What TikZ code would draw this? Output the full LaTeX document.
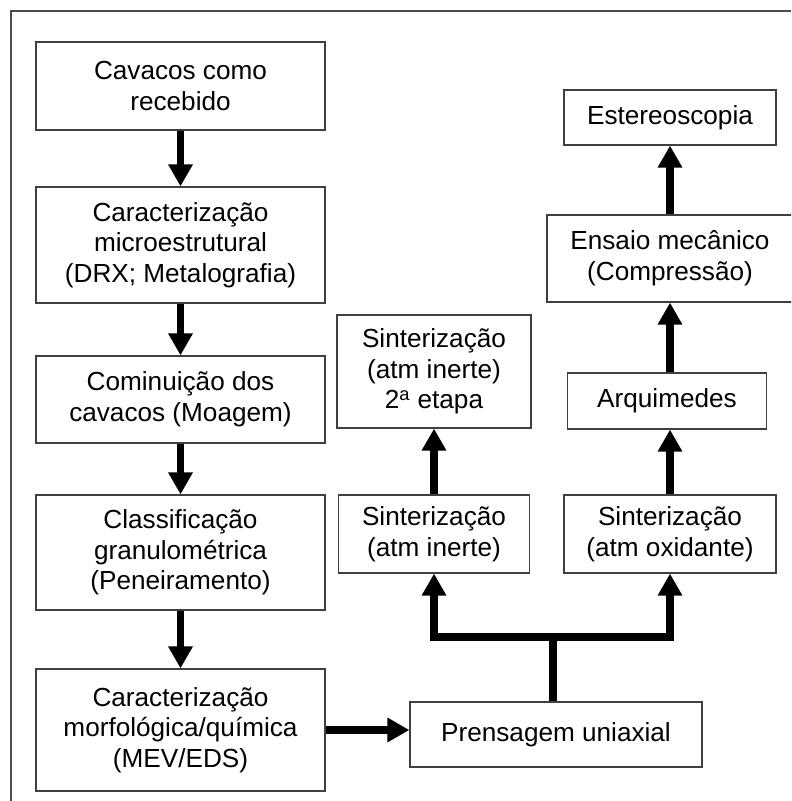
\documentclass[tikz,border=0pt]{standalone}
\usepackage{fontspec}
\setmainfont{Liberation Sans}
\usetikzlibrary{arrows.meta,positioning}

\begin{document}
\begin{tikzpicture}[
    x=0.025cm, y=-0.025cm,
    box/.style={rectangle, draw=black!75, line width=0.8pt, inner sep=0pt, align=center,
        font=\fontsize{18.6}{21.8}\selectfont},
    arrow/.style={-{Triangle[width=0.58cm,length=0.55cm]}, line width=5pt},
    stem/.style={line width=5pt},
    frame/.style={draw=black!70, line width=1pt}
]
\clip (0,0) rectangle (791,801);

% Outer frame (top and left only)
\draw[frame] (791,11) -- (11,11) -- (11,801);

% Preparation of the chips
\node[box, minimum width=7.225cm, minimum height=2.2cm] (recebido) at (180.5,86) {Cavacos como\\recebido};
\node[box, minimum width=7.225cm, minimum height=2.9cm] (micro) at (180.5,245) {Caracterização\\microestrutural\\(DRX; Metalografia)};
\node[box, minimum width=7.225cm, minimum height=2.175cm] (moagem) at (180.5,399.5) {Cominuição dos\\cavacos (Moagem)};
\node[box, minimum width=7.225cm, minimum height=2.875cm] (peneira) at (180.5,552.5) {Classificação\\granulométrica\\(Peneiramento)};
\node[box, minimum width=7.225cm, minimum height=3.05cm] (morfo) at (180.5,730) {Caracterização\\morfológica/química\\(MEV/EDS)};

% Compaction
\node[box, minimum width=7.3cm, minimum height=1.625cm] (prensa) at (556,734.5) {Prensagem uniaxial};

% Sintering
\node[box, minimum width=4.775cm, minimum height=1.95cm] (inerte) at (434,534) {Sinterização\\(atm inerte)};
\node[box, minimum width=4.85cm, minimum height=2.825cm] (etapa) at (434,371.5) {Sinterização\\(atm inerte)\\2\textsuperscript{a} etapa};
\node[box, minimum width=5.3cm, minimum height=1.95cm] (oxidante) at (670,534) {Sinterização\\(atm oxidante)};

% Tests
\node[box, minimum width=4.975cm, minimum height=1.4cm] (arquimedes) at (667,401) {Arquimedes};
\node[box, minimum width=6.15cm, minimum height=2.175cm] (ensaio) at (670,258.5) {Ensaio mecânico\\(Compressão)};
\node[box, minimum width=5.3cm, minimum height=1.375cm] (estereo) at (670,117.5) {Estereoscopia};

% Arrows
\draw[arrow] (recebido) -- (micro);
\draw[arrow] (micro) -- (moagem);
\draw[arrow] (moagem) -- (peneira);
\draw[arrow] (peneira) -- (morfo);
\draw[arrow] (morfo.east) -- (morfo.east -| prensa.west);

\coordinate (split) at (553,637);
\draw[stem] (prensa.north -| split) -- (split);
\draw[arrow] (split) -| (inerte);
\draw[arrow] (split) -| (oxidante);

\draw[arrow] (inerte) -- (etapa);
\draw[arrow] (oxidante) -- (oxidante |- arquimedes.south);
\draw[arrow] (arquimedes.north -| ensaio) -- (ensaio);
\draw[arrow] (ensaio) -- (estereo);

\end{tikzpicture}
\end{document}
